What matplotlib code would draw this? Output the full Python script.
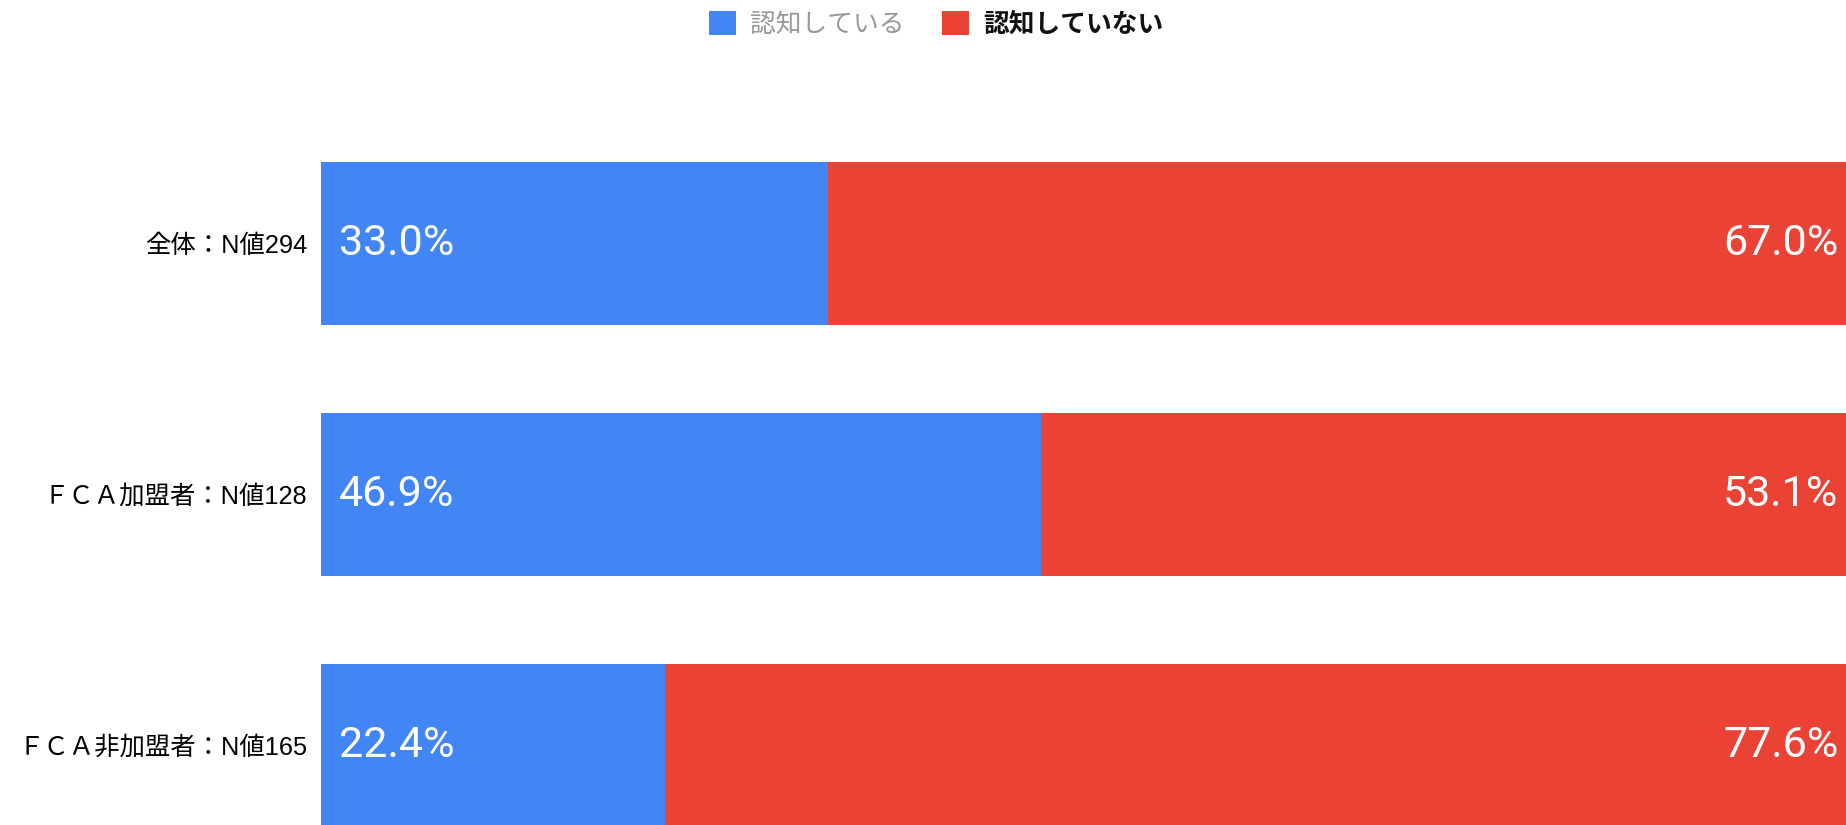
import matplotlib.pyplot as plt
import numpy as np

categories = ["全体：N値294", "ＦＣＡ加盟者：N値128", "ＦＣＡ非加盟者：N値165"]
aware = [33.0, 46.9, 22.4]
not_aware = [67.0, 53.1, 77.6]
series_names = ["認知している", "認知していない"]

BLUE = "#4285F4"
RED = "#EA4335"
JP = ["Liberation Sans", "Noto Sans CJK JP"]
NUM = ["Roboto", "DejaVu Sans"]

W, H = 1846, 825
fig = plt.figure(figsize=(W / 100, H / 100), dpi=100)
# axes runs a little past the right edge of the canvas
left, right = 321, 1857
top, bottom = 118, 871
ax = fig.add_axes([left / W, (H - bottom) / H, (right - left) / W, (bottom - top) / H])

y = np.arange(len(categories))
h = 0.65
b1 = ax.barh(y, aware, height=h, color=BLUE, label=series_names[0])
b2 = ax.barh(y, not_aware, left=aware, height=h, color=RED, label=series_names[1])

for i in range(len(categories)):
    ax.text(1.15, y[i], f"{aware[i]:.1f}%", color="white", fontsize=31,
            va="center", ha="left", family=NUM)
    ax.text(100 - 1.2, y[i], f"{not_aware[i]:.1f}%", color="white", fontsize=31,
            va="center", ha="right", family=NUM)

ax.set_xlim(0, 100)
ax.set_ylim(2.5, -0.5)
ax.set_yticks(y)
ax.set_yticklabels(categories, fontsize=18.3, family=JP)
ax.tick_params(axis="y", length=0, pad=10)
ax.set_xticks([])
for s in ax.spines.values():
    s.set_visible(False)

leg = fig.legend(handles=[b1, b2], loc="center", bbox_to_anchor=(0.507, 1 - 24 / H),
                 ncol=2, frameon=False, handlelength=1.05, handleheight=1.05,
                 handletextpad=0.55, columnspacing=1.45, prop={"family": JP, "size": 18.5})
txt = leg.get_texts()
txt[0].set_color("#999999")
txt[1].set_color("#111111")
txt[1].set_fontweight("bold")

fig.savefig("out.png", dpi=100)
